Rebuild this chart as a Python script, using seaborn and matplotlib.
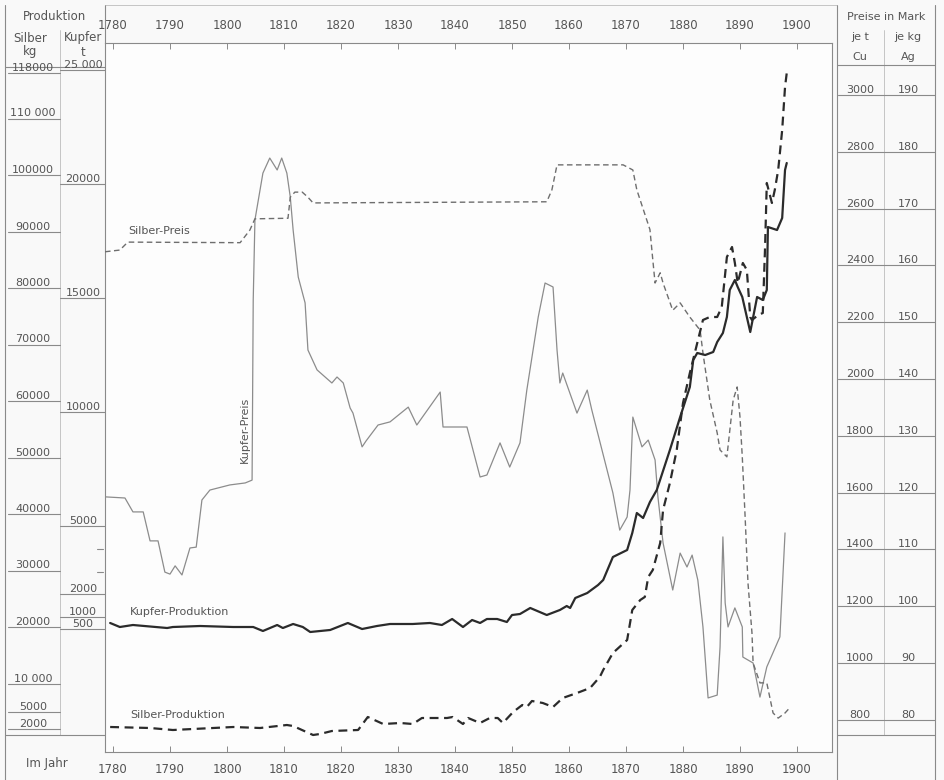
import matplotlib
matplotlib.use("Agg")
import matplotlib.pyplot as plt
import seaborn as sns
from matplotlib.lines import Line2D
from matplotlib.transforms import blended_transform_factory

# --- Daten ---
# Kupfer-Preis, Mark je t Cu
kupfer_preis_jahr = [
    1778.6, 1782.1, 1783.5, 1785.3, 1786.5, 1787.9, 1789.1, 1790.0, 1790.9, 1792.1,
    1793.5, 1794.6, 1795.6, 1797.0, 1800.5, 1803.2, 1804.4, 1804.6, 1804.9, 1806.3,
    1807.5, 1808.8, 1809.6, 1810.5, 1811.1, 1811.6, 1812.5, 1813.7, 1814.2, 1815.8,
    1818.4, 1819.3, 1820.4, 1821.6, 1822.1, 1823.7, 1824.4, 1826.5, 1828.6, 1831.8,
    1833.3, 1836.8, 1837.4, 1837.9, 1842.1, 1844.4, 1845.6, 1847.9, 1849.6, 1851.4,
    1852.6, 1854.6, 1855.8, 1857.2, 1857.9, 1858.4, 1858.9, 1861.4, 1863.2, 1864.0,
    1867.7, 1868.9, 1870.2, 1870.7, 1871.2, 1872.8, 1873.9, 1875.1, 1875.6, 1876.5,
    1878.2, 1879.5, 1880.7, 1881.6, 1882.6, 1883.5, 1884.4, 1886.0, 1886.5, 1887.0,
    1887.4, 1887.9, 1889.1, 1890.4, 1890.5, 1892.3, 1893.0, 1893.5, 1894.7, 1897.0,
    1897.9]
kupfer_preis = [
    1585, 1581, 1532, 1532, 1430, 1430, 1320, 1313, 1342, 1310,
    1405, 1408, 1574, 1609, 1627, 1634, 1644, 2278, 2560, 2725,
    2778, 2736, 2778, 2725, 2641, 2525, 2359, 2268, 2102, 2032,
    1986, 2007, 1986, 1898, 1880, 1761, 1782, 1838, 1849, 1901,
    1838, 1937, 1954, 1831, 1831, 1655, 1662, 1775, 1690, 1775,
    1961, 2218, 2338, 2324, 2102, 1986, 2021, 1880, 1961, 1891,
    1599, 1468, 1514, 1609, 1866, 1761, 1785, 1715, 1585, 1423,
    1257, 1387, 1338, 1380, 1292, 1127, 877, 887, 1056, 1444,
    1211, 1127, 1194, 1127, 1021, 1000, 930, 880, 986, 1092,
    1458]

# Silber-Preis, Mark je kg Ag
silber_preis_jahr = [
    1778.6, 1781.2, 1782.6, 1802.3, 1804.0, 1804.9, 1810.7, 1811.1, 1811.9, 1813.2,
    1814.2, 1815.1, 1856.1, 1857.0, 1857.9, 1869.5, 1871.2, 1871.9, 1874.2, 1874.7,
    1875.1, 1876.0, 1876.5, 1878.2, 1879.5, 1881.2, 1883.0, 1883.5, 1884.7, 1886.0,
    1886.5, 1887.7, 1888.8, 1889.5, 1890.0, 1890.4, 1890.9, 1891.4, 1892.1, 1892.3,
    1893.5, 1894.7, 1895.8, 1896.7, 1897.9, 1898.8]
silber_preis = [
    162.4, 162.7, 164.1, 164.0, 166.2, 168.2, 168.3, 172.0, 172.9, 172.9,
    172.0, 171.0, 171.2, 173.3, 177.7, 177.7, 176.8, 173.3, 166.3, 161.0,
    156.9, 158.7, 156.9, 152.1, 153.4, 150.9, 148.6, 144.6, 136.3, 130.5,
    127.5, 126.3, 136.3, 138.6, 133.3, 126.3, 115.7, 104.1, 95.3, 90.0,
    86.5, 86.5, 81.2, 80.3, 81.2, 82.2]

# Kupfer-Produktion, t
kupfer_prod_jahr = [
    1779.5, 1781.2, 1783.5, 1789.5, 1790.5, 1795.3, 1801.1, 1804.6, 1806.3, 1808.8,
    1809.8, 1811.6, 1813.3, 1814.6, 1818.1, 1821.2, 1823.7, 1826.3, 1828.6, 1832.6,
    1835.6, 1837.7, 1839.5, 1841.4, 1843.0, 1844.4, 1845.6, 1847.4, 1849.1, 1850.0,
    1851.4, 1853.2, 1856.1, 1858.4, 1859.6, 1860.2, 1861.1, 1863.2, 1865.1, 1866.0,
    1867.7, 1870.2, 1871.1, 1871.9, 1873.0, 1874.2, 1875.4, 1877.7, 1879.5, 1881.2,
    1881.8, 1882.5, 1883.9, 1885.3, 1886.0, 1887.0, 1887.7, 1888.2, 1889.1, 1889.6,
    1890.4, 1891.8, 1893.0, 1894.0, 1894.7, 1894.9, 1896.5, 1897.4, 1897.9, 1898.2]
kupfer_prod = [
    746, 570, 658, 526, 570, 614, 570, 570, 395, 658,
    526, 702, 570, 351, 439, 746, 482, 614, 702, 702,
    746, 658, 921, 570, 877, 746, 921, 921, 789, 1096,
    1140, 1404, 1096, 1316, 1491, 1404, 1842, 2061, 2412, 2632,
    3640, 3947, 4693, 5570, 5351, 6053, 6579, 8333, 9781, 11096,
    12281, 12588, 12500, 12632, 13070, 13465, 14167, 15351, 15789, 15482,
    15044, 13509, 15044, 14912, 15351, 18114, 17982, 18509, 20614, 20921]

# Silber-Produktion, kg
silber_prod_jahr = [
    1779.5, 1786.5, 1790.5, 1801.1, 1805.8, 1810.5, 1811.6, 1815.1, 1816.3, 1818.4,
    1823.0, 1824.7, 1827.4, 1830.4, 1832.6, 1834.2, 1838.6, 1839.6, 1841.4, 1842.3,
    1844.4, 1846.1, 1847.5, 1848.4, 1850.2, 1851.8, 1852.6, 1853.5, 1855.4, 1857.2,
    1858.9, 1861.4, 1863.7, 1865.4, 1866.0, 1867.7, 1870.2, 1871.1, 1872.5, 1873.3,
    1873.9, 1874.7, 1876.0, 1876.5, 1877.7, 1878.9, 1880.0, 1881.2, 1882.5, 1883.5,
    1884.7, 1886.0, 1886.8, 1887.7, 1888.6, 1889.1, 1889.6, 1890.5, 1891.2, 1891.8,
    1892.1, 1893.2, 1894.0, 1894.4, 1894.7, 1895.6, 1896.1, 1896.7, 1897.4, 1897.9,
    1898.2]
silber_prod = [
    2301, 2124, 1770, 2301, 2124, 2655, 2478, 885, 1062, 1593,
    1770, 4071, 2832, 3009, 2832, 3894, 3894, 4071, 2832, 3894,
    3009, 3894, 3894, 3009, 4956, 6195, 5841, 6903, 6549, 5841,
    7434, 8319, 9204, 11150, 12389, 15398, 17699, 23009, 24779, 25310,
    28850, 30089, 34867, 40708, 45487, 51327, 59646, 64956, 70265, 74336,
    74867, 74867, 76637, 85487, 87257, 84425, 80885, 84425, 83186, 74867,
    74336, 75221, 75575, 87257, 98584, 95044, 97345, 100885, 107965, 115575,
    118053]

jahre_ticks = list(range(1780, 1901, 10))

silber_ticks = [118000, 110000, 100000, 90000, 80000, 70000, 60000, 50000,
                40000, 30000, 20000, 10000, 5000, 2000]
silber_labels = ["118000", "110 000", "100000", "90000", "80000", "70000", "60000",
                 "50000", "40000", "30000", "20000", "10 000", "5000", "2000"]
kupfer_ticks = [25000, 20000, 15000, 10000, 5000, 2000, 1000, 500]
kupfer_labels = ["25 000", "20000", "15000", "10000", "5000", "2000", "1000", "500"]
cu_preis_ticks = [3000, 2800, 2600, 2400, 2200, 2000, 1800, 1600, 1400, 1200, 1000, 800]
ag_preis_labels = ["190", "180", "170", "160", "150", "140", "130", "120",
                   "110", "100", "90", "80"]

# --- Layout (Pixel der Vorlage) ---
W, H = 944, 780
PX_L, PX_R, PX_T, PX_B = 105, 832, 43, 752


def fx(x):
    return x / W


def fy(y):
    return 1 - y / H


# Skalen: Wert -> Pixelhoehe
def cu_lim(pix):          # Mark/t Cu, 3000 bei 95 px, 200 Mark je 56.8 px
    return 3000 - (pix - 95) * 200 / 56.8


def jahr_lim(pix):        # 1780 bei 113 px, 10 Jahre je 57 px
    return 1780 + (pix - 113) / 5.7


def kupfer_lim(pix):      # t Kupfer, 0 bei 640 px
    return (640 - pix) / 0.0228


def silber_lim(pix):      # kg Silber, 0 bei 740 px
    return (740 - pix) / 0.00565


sns.set_theme(style="white")
plt.rcParams['font.family'] = ['Liberation Sans Narrow', 'DejaVu Sans']

bg = '#f9f9f9'
ink = '#555555'
rule = '#8a8a8a'

fig = plt.figure(figsize=(W / 100, H / 100), dpi=100, facecolor=bg)
ax = fig.add_axes([fx(PX_L), fy(PX_B), (PX_R - PX_L) / W, (PX_B - PX_T) / H])
ax.set_facecolor('#fdfdfd')
ax_ag = ax.twinx()
ax_kp = ax.twinx()
ax_sp = ax.twinx()

ax.set_xlim(jahr_lim(PX_L), jahr_lim(PX_R))
ax.set_ylim(cu_lim(PX_B), cu_lim(PX_T))
ax_ag.set_ylim(80 + (cu_lim(PX_B) - 800) / 20, 80 + (cu_lim(PX_T) - 800) / 20)
ax_kp.set_ylim(kupfer_lim(PX_B), kupfer_lim(PX_T))
ax_sp.set_ylim(silber_lim(PX_B), silber_lim(PX_T))

for a in (ax_ag, ax_kp, ax_sp):
    a.set_yticks([])
    for s in a.spines.values():
        s.set_visible(False)

# --- Linien ---
sns.lineplot(x=kupfer_preis_jahr, y=kupfer_preis, ax=ax, color='#8c8c8c',
             linewidth=0.9, sort=False, estimator=None)
sns.lineplot(x=silber_preis_jahr, y=silber_preis, ax=ax_ag, color='#6e6e6e',
             linewidth=1.0, linestyle=(0, (4, 2.5)), sort=False, estimator=None)
sns.lineplot(x=kupfer_prod_jahr, y=kupfer_prod, ax=ax_kp, color='#2b2b2b',
             linewidth=1.6, sort=False, estimator=None)
sns.lineplot(x=silber_prod_jahr, y=silber_prod, ax=ax_sp, color='#2b2b2b',
             linewidth=1.6, linestyle=(0, (4, 2.5)), sort=False, estimator=None)

# --- Achsen / Jahreszeilen ---
ax.set_yticks([])
ax.set_xticks(jahre_ticks)
ax.set_xticklabels([str(j) for j in jahre_ticks])
ax.tick_params(axis='x', top=True, labeltop=True, bottom=True, labelbottom=True,
               direction='in', length=4, width=0.7, colors=rule, labelcolor=ink,
               labelsize=8.5, pad=8)
for s in ax.spines.values():
    s.set_color(rule)
    s.set_linewidth(0.8)
ax.set_xlabel('')
ax.set_ylabel('')

# Beschriftung der Kurven
ax_ag.text(jahr_lim(128), 80 + (cu_lim(236) - 800) / 20, "Silber-Preis",
           fontsize=8, color=ink, va='bottom')
ax.text(jahr_lim(245), cu_lim(430), "Kupfer-Preis", rotation=90, fontsize=8,
        color=ink, ha='center', va='center')
ax_kp.text(jahr_lim(130), kupfer_lim(612), "Kupfer-Produktion", fontsize=8,
           color=ink, va='center')
ax_sp.text(jahr_lim(130), silber_lim(715), "Silber-Produktion", fontsize=8,
           color=ink, va='center')


def hline(x0, x1, y0, y1=None, lw=0.8, color=rule, tr=None):
    if y1 is None:
        y1 = y0
    if tr is None:
        fig.add_artist(Line2D([fx(x0), fx(x1)], [fy(y0), fy(y1)],
                              transform=fig.transFigure, color=color, lw=lw))
    else:
        fig.add_artist(Line2D([fx(x0), fx(x1)], [y0, y1], transform=tr,
                              color=color, lw=lw))


# --- Linke Tabelle (Produktion) ---
hline(5, 5, 5, 780)
hline(60, 60, 30, 735, lw=0.5, color='#b0b0b0')
hline(5, PX_L, 67)
hline(5, PX_L, 735)
hline(PX_L, PX_L, 5, PX_T)
fig.text(fx(55), fy(17), "Produktion", fontsize=8.5, color=ink, ha='center', va='center')
fig.text(fx(30), fy(38), "Silber", fontsize=8.5, color=ink, ha='center', va='center')
fig.text(fx(83), fy(38), "Kupfer", fontsize=8.5, color=ink, ha='center', va='center')
fig.text(fx(30), fy(52), "kg", fontsize=8.5, color=ink, ha='center', va='center')
fig.text(fx(83), fy(52), "t", fontsize=8.5, color=ink, ha='center', va='center')
fig.text(fx(47), fy(763), "Im Jahr", fontsize=8.5, color=ink, ha='center', va='center')

tr_sp = blended_transform_factory(fig.transFigure, ax_sp.transData)
tr_kp = blended_transform_factory(fig.transFigure, ax_kp.transData)
for v, lab in zip(silber_ticks, silber_labels):
    fig.text(fx(33), v, lab, transform=tr_sp, fontsize=8, color=ink,
             ha='center', va='bottom')
    hline(8, 60, v, tr=tr_sp)
for v, lab in zip(kupfer_ticks, kupfer_labels):
    fig.text(fx(83), v, lab, transform=tr_kp, fontsize=8, color=ink,
             ha='center', va='bottom')
    hline(60, PX_L, v, tr=tr_kp)
for v in (4000, 3000):
    hline(97, PX_L - 2, v, tr=tr_kp)

# --- Rechte Tabelle (Preise) ---
hline(837, 837, 5, 780)
hline(935, 935, 5, 780)
hline(884, 884, 30, 735, lw=0.5, color='#b0b0b0')
hline(837, 935, 65)
hline(837, 935, 735)
hline(PX_L, 837, 5, lw=0.5, color='#b0b0b0')
fig.text(fx(886), fy(17), "Preise in Mark", fontsize=8, color=ink, ha='center', va='center')
fig.text(fx(860), fy(37), "je t", fontsize=8, color=ink, ha='center', va='center')
fig.text(fx(908), fy(37), "je kg", fontsize=8, color=ink, ha='center', va='center')
fig.text(fx(860), fy(57), "Cu", fontsize=8, color=ink, ha='center', va='center')
fig.text(fx(908), fy(57), "Ag", fontsize=8, color=ink, ha='center', va='center')

tr_cu = blended_transform_factory(fig.transFigure, ax.transData)
for v, lab in zip(cu_preis_ticks, ag_preis_labels):
    fig.text(fx(860), v, str(v), transform=tr_cu, fontsize=8, color=ink,
             ha='center', va='bottom')
    fig.text(fx(908), v, lab, transform=tr_cu, fontsize=8, color=ink,
             ha='center', va='bottom')
    hline(838, 935, v, tr=tr_cu)

fig.savefig("out.png", dpi=100, facecolor=bg)
